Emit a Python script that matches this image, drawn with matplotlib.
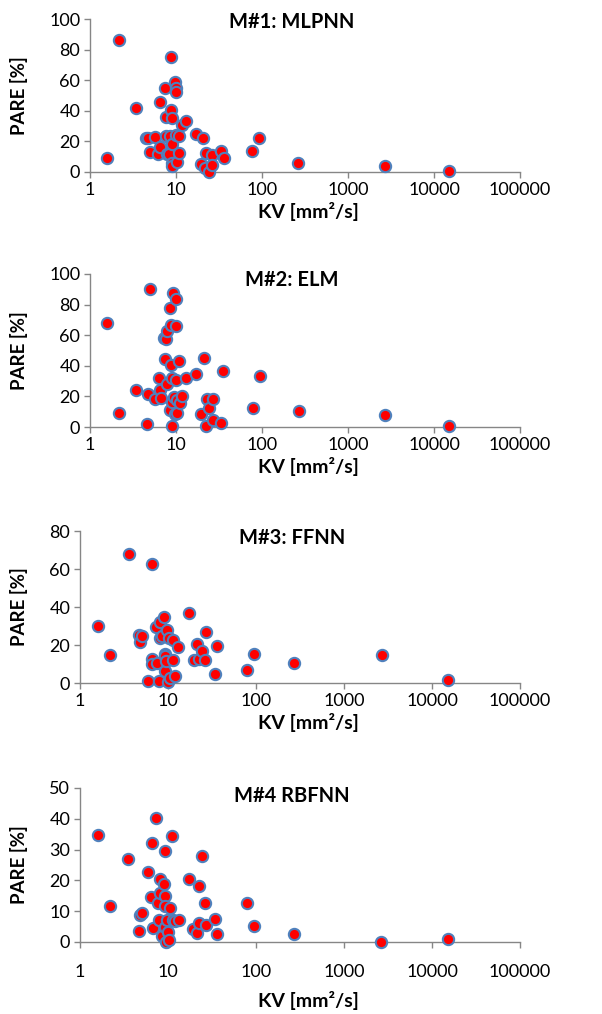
import matplotlib
matplotlib.use('Agg')
import matplotlib.pyplot as plt

plt.rcParams['font.family'] = ['Lato', 'DejaVu Sans']

titles = ['M#1: MLPNN', 'M#2: ELM', 'M#3: FFNN', 'M#4 RBFNN']

kv1 = [1.57, 2.17, 3.4, 4.5, 4.7, 4.96, 5.7, 6.2, 6.5, 6.5, 7.4, 7.6, 7.7, 7.8, 8.4,
       8.6, 8.8, 8.8, 8.9, 9.0, 9.0, 9.1, 9.7, 9.9, 9.9, 10.1, 10.3, 10.8, 10.8, 11.9,
       13.0, 16.9, 20.7, 19.7, 21.6, 22.6, 24.1, 26.5, 26.5, 33.6, 35.9, 76.9, 92.5,
       264, 2670, 14900]
pare1 = [9.4, 86.3, 42, 22.4, 22.4, 12.9, 23, 11.8, 16.6, 46, 55, 23.5, 35.7, 11.8, 11.8,
         23.5, 75.4, 40.5, 18.3, 5.7, 35, 4.1, 59, 55, 52, 24.2, 6.8, 12.2, 23.5, 30.7,
         33.5, 24.8, 22.4, 5.2, 2.4, 12.2, 0.2, 11.1, 4.6, 13.9, 9.4, 13.9, 22.2,
         6.1, 3.9, 0.9]

kv2 = [1.58, 2.18, 3.43, 4.64, 4.77, 4.99, 5.73, 6.28, 6.58, 6.7, 7.21, 7.41, 7.69, 7.91,
       7.91, 8.43, 8.51, 8.67, 8.83, 8.91, 9.06, 9.06, 9.33, 9.5, 9.8, 9.95, 9.95, 9.95,
       10.2, 10.4, 10.9, 11.1, 11.9, 13.1, 16.9, 19.4, 21.1, 22.3, 23.2, 24.0, 26.6, 26.8,
       33.7, 35.3, 78.6, 94.4, 267, 2700, 14800]
pare2 = [68.3, 9.2, 24, 1.7, 21.4, 90, 18.6, 32.3, 24, 19, 58.3, 44.3, 57.2, 62.7,
         28, 77.5, 11.4, 66.6, 40.4, 31.7, 16.4, 0.7, 87.8, 19.7, 8.3, 83.4, 66, 31,
         9.2, 17.9, 43, 15.7, 20, 31.7, 34.5, 8.7, 44.8, 0.7, 18.6, 12.7, 18.1, 4.8,
         2.8, 36.5, 12.7, 33.4, 10.5, 7.6, 0.4]

kv3 = [1.61, 2.2, 3.58, 4.68, 4.81, 5.12, 5.91, 6.58, 6.58, 6.58, 7.33, 7.53, 7.87, 8.02,
       8.09, 8.61, 9.01, 9.18, 9.2, 9.2, 9.6, 9.86, 10.1, 10.3, 10.5, 11.3, 11.4, 12.1,
       13.1, 17.2, 19.7, 21.1, 22.7, 24.6, 26.4, 27.2, 34.0, 35.6, 79.8, 95.4, 268, 2690,
       15060]
pare3 = [30.2, 14.5, 67.8, 25.3, 21.8, 24.5, 1.2, 62.4, 12.8, 10, 29.7, 10.5, 1.2, 23.9,
         32.3, 25, 34.9, 15.2, 6.1, 14, 11.4, 28, 0.5, 23.9, 2.6, 22.7, 12.2, 3.5,
         19.2, 36.7, 12.2, 20.4, 12.8, 16.6, 12.2, 26.7, 4.9, 19.7, 6.6, 15.2, 10.5, 14.8,
         1.4]

kv4 = [1.61, 2.2, 3.51, 4.68, 4.81, 5.12, 5.91, 6.58, 6.46, 6.7, 7.33, 7.72, 7.87, 8.02,
       8.09, 8.61, 9.01, 9.18, 9.26, 9.26, 9.26, 9.4, 9.86, 10.0, 10.3, 10.5, 11.0, 11.3,
       12.1, 13.3, 17.2, 19.3, 21.1, 22.7, 22.7, 24.6, 26.4, 27.2, 34.0, 35.6, 79.8, 95.4,
       268, 2640, 15060]
pare4 = [34.6, 11.6, 26.8, 3.6, 8.9, 9.5, 22.8, 32.1, 14.7, 4.6, 40.2, 12.8, 7.1, 16,
         20.3, 1.8, 18.7, 14.9, 29.7, 11.6, 4.9, 0, 7.1, 3.3, 0.5, 10.9, 34.5, 7.3,
         6.7, 7.3, 20.4, 4.3, 2.9, 6.2, 18.3, 27.9, 12.8, 5.4, 7.4, 2.5, 12.7, 5.2,
         2.5, 0, 1.1]

kvs = [kv1, kv2, kv3, kv4]
pares = [pare1, pare2, pare3, pare4]
ymaxs = [100, 100, 80, 50]
ysteps = [20, 20, 20, 10]
xticks = [1, 10, 100, 1000, 10000, 100000]
xticklabels = ['1', '10', '100', '1000', '10000', '100000']

W, H = 602, 1014
fig = plt.figure(figsize=(W / 100, H / 100), dpi=100)
boxes = [(90, 520, 19, 172), (90, 520, 274, 427), (80, 520, 531, 683), (80, 520, 788, 942)]
xpads = [3, 3, 3, 12]
kv_offsets = [39, 39, 39, 58]
title_y = [22, 280, 538, 796]
axis_gray = '#868686'

for i in range(4):
    x0, x1, y0, y1 = boxes[i]
    ax = fig.add_axes([x0 / W, 1 - y1 / H, (x1 - x0) / W, (y1 - y0) / H])
    ax.scatter(kvs[i], pares[i], s=66, c='#FF0000', edgecolors='#4F81BD',
               linewidths=1.5, zorder=3, clip_on=False)
    ax.set_xscale('log')
    ax.set_xlim(1, 1e5)
    ax.set_ylim(0, ymaxs[i])
    ax.set_xticks(xticks)
    ax.set_xticklabels(xticklabels)
    ax.minorticks_off()
    ax.set_yticks(list(range(0, ymaxs[i] + 1, ysteps[i])))
    for sp in ['top', 'right']:
        ax.spines[sp].set_visible(False)
    for sp in ['left', 'bottom']:
        ax.spines[sp].set_color(axis_gray)
        ax.spines[sp].set_linewidth(1.0)
    ax.tick_params(axis='both', direction='out', length=4, width=1.0, color=axis_gray,
                   labelsize=13, labelcolor='black', pad=3)
    ax.tick_params(axis='x', pad=xpads[i])
    fig.text(292 / W, 1 - title_y[i] / H, titles[i], ha='center', va='center',
             fontsize=14.5, fontweight='bold')
    fig.text(19 / W, 1 - ((y0 + y1) / 2) / H, 'PARE [%]', rotation=90, ha='center',
             va='center', fontsize=13.5, fontweight='bold')
    fig.text(308 / W, 1 - (y1 + kv_offsets[i]) / H, 'KV [mm²/s]', ha='center',
             va='center', fontsize=14, fontweight='bold')

fig.savefig('out.png', dpi=100, facecolor='white')
